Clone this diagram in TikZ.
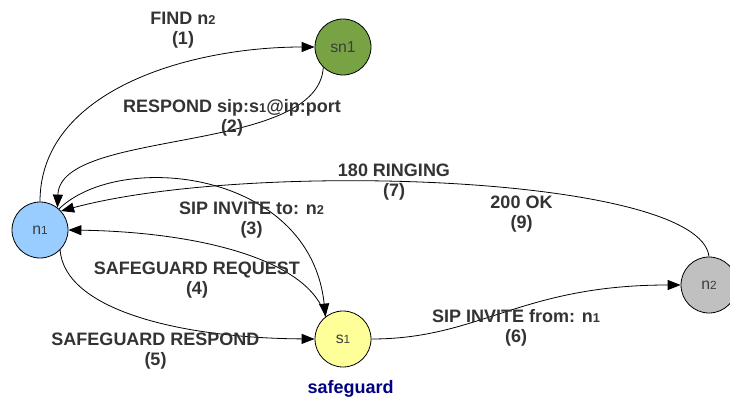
\documentclass[tikz,border=0pt]{standalone}
\usepackage{fontspec}
\setmainfont{Liberation Sans}
\usetikzlibrary{arrows.meta}
\definecolor{txtgray}{HTML}{333333}
\definecolor{ndgray}{HTML}{3C3C3C}
\definecolor{sngreen}{HTML}{77A345}
\definecolor{nblue}{HTML}{99CCFF}
\definecolor{syellow}{HTML}{FFFF99}
\definecolor{ngray}{HTML}{C0C0C0}
\definecolor{sgnavy}{HTML}{000080}
\newcommand\lsub[1]{{\fontsize{12.8}{12.8}\selectfont #1}}
\newcommand\nsub[1]{{\fontsize{11.8}{11.8}\selectfont #1}}
\begin{document}
\begin{tikzpicture}[x=1pt,y=-1pt,
  stnode/.style={circle,draw=black,line width=0.8pt,minimum size=56pt,inner sep=0pt,
    font=\fontsize{15.8}{15.8}\selectfont,text=ndgray},
  lbl/.style={font=\bfseries\fontsize{18}{20}\selectfont,text=txtgray,align=center,inner sep=0pt},
  conn/.style={line width=0.8pt,-{Triangle[length=13pt,width=10pt]}}]
\useasboundingbox (0,0) rectangle (730,398);
% nodes
\node[stnode,fill=sngreen] (sn1) at (343,47) {sn1};
\node[stnode,fill=nblue] (n1) at (40,230) {n\nsub{1}};
\node[stnode,fill=syellow] (s1) at (343,339) {s\nsub{1}};
\node[stnode,fill=ngray] (n2) at (709,285) {n\nsub{2}};
% connectors
\draw[conn] (n1.north) .. controls (40,90) and (190,47) .. (sn1.west);
\draw[conn] (sn1.226) .. controls (318,155) and (60,128) .. (n1.52);
\draw[conn] (n1.48) .. controls (120,150) and (310,170) .. (s1.128);
\draw[conn] (s1.128) .. controls (310,260) and (200,232) .. (n1.east);
\draw[conn] (n1.-45) .. controls (65,310) and (180,338) .. (s1.west);
\draw[conn] (s1.east) .. controls (480,339) and (520,285) .. (n2.west);
\draw[conn] (n2.north) .. controls (700,175) and (250,160) .. (n1.42);
% labels
\node[lbl] (l1) at (183,30) {FIND n\lsub{2}\\(1)};
\node[lbl] (l2) at (232,117.5) {RESPOND sip:s\lsub{1}@ip:port\\(2)};
\node[lbl] (l7) at (394,182.5) {180 RINGING\\(7)};
\node[lbl] (l3) at (251.5,220) {SIP INVITE to: n\lsub{2}\\(3)};
\node[lbl] (l9) at (521.5,214) {200 OK\\(9)};
\node[lbl] (l4) at (197,280.5) {SAFEGUARD REQUEST\\(4)};
\node[lbl] (l5) at (155.5,350.8) {SAFEGUARD RESPOND\\(5)};
\node[lbl] (l6) at (516,328.3) {SIP INVITE from: n\lsub{1}\\(6)};
\node[font=\bfseries\fontsize{18}{20}\selectfont,text=sgnavy,inner sep=0pt] (sg) at (350.7,389) {safeguard};
\end{tikzpicture}
\end{document}
